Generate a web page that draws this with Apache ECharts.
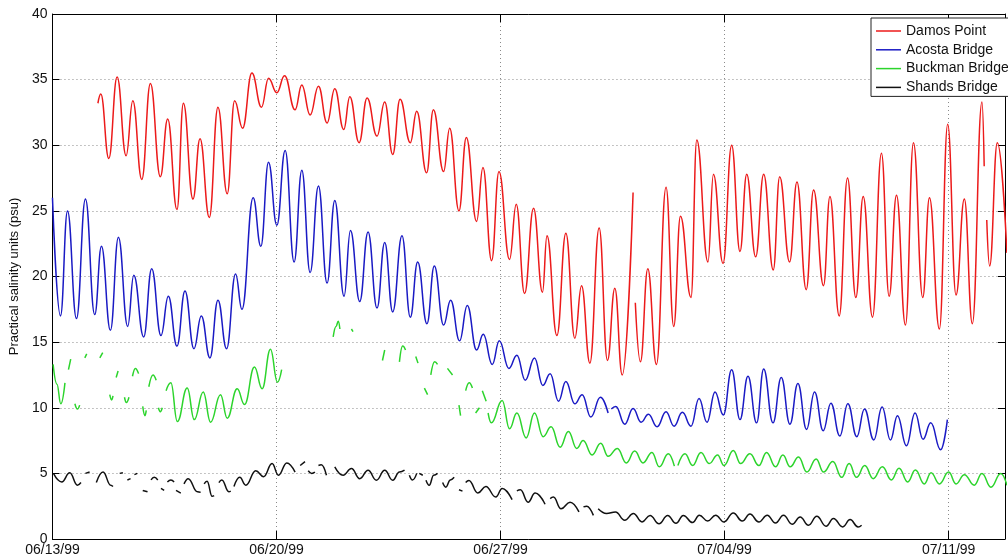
<!DOCTYPE html>
<html>
<head>
<meta charset="utf-8">
<title>Salinity, St. Johns River stations</title>
<script src="https://cdn.jsdelivr.net/npm/echarts@6/dist/echarts.min.js"></script>
<style>
  html, body { margin: 0; padding: 0; background: #fff; }
  #chart { width: 1008px; height: 557px; }
</style>
</head>
<body>
<div id="chart"></div>
<script>
// Time is in days since 06/13/99 00:00; values are practical salinity units.
// Each series lists its tidal highs and lows; null marks a gap in the record.
const tickLabels = ['06/13/99', '06/20/99', '06/27/99', '07/04/99', '07/11/99'];
const seriesNames = ['Damos Point', 'Acosta Bridge', 'Buckman Bridge', 'Shands Bridge'];
const yTicks = [0, 5, 10, 15, 20, 25, 30, 35, 40];

const damosPoint = [
  [1.42,33.2],[1.51,33.9],[1.76,29.0],[2.02,35.2],[2.30,29.2],[2.51,33.4],[2.79,27.4],[3.06,34.7],[3.37,27.6],[3.60,32.0],
  [3.89,25.1],[4.09,33.2],[4.39,25.9],[4.61,30.5],[4.90,24.5],[5.17,32.9],[5.46,26.3],[5.69,33.4],[5.94,31.3],[6.23,35.5],
  [6.53,32.9],[6.75,35.1],[7.01,34.0],[7.25,35.3],[7.58,32.7],[7.79,34.6],[8.05,32.3],[8.31,34.5],[8.58,31.7],[8.82,34.3],
  [9.10,31.2],[9.29,33.7],[9.58,30.2],[9.83,33.6],[10.14,30.7],[10.38,33.3],[10.63,29.3],[10.86,33.5],[11.18,30.2],[11.38,32.6],
  [11.69,27.9],[11.90,32.7],[12.22,28.0],[12.41,31.3],[12.70,25.0],[12.93,30.6],[13.25,24.2],[13.45,28.3],[13.72,21.2],[13.95,28.0],
  [14.28,21.3],[14.49,25.5],[14.75,18.7],[15.03,25.2],[15.31,18.8],[15.45,23.1],[15.76,15.5],[16.04,23.3],[16.32,15.3],[16.53,19.3],
  [16.79,13.4],[17.08,23.7],[17.34,13.6],[17.57,19.1],[17.80,12.5],[18.14,26.4],null,
  [18.21,18.0],[18.37,13.5],[18.60,20.6],[18.87,13.3],[19.17,26.8],[19.41,16.2],[19.62,24.6],[19.95,18.4],[20.13,30.4],[20.48,21.1],
  [20.65,27.8],[20.95,21.0],[21.22,30.0],[21.48,21.9],[21.69,27.8],[21.97,21.5],[22.22,27.8],[22.52,20.5],[22.72,27.6],[23.03,21.1],
  [23.26,27.2],[23.55,19.0],[23.78,26.6],[24.09,19.3],[24.29,26.1],[24.58,17.0],[24.84,27.5],[25.10,18.4],[25.33,26.1],[25.62,16.9],
  [25.90,29.4],[26.14,18.5],[26.37,26.2],[26.65,16.3],[26.90,30.2],[27.19,18.4],[27.40,26.0],[27.71,16.0],[27.97,31.6],[28.23,18.6],
  [28.49,25.9],[28.74,16.4],[29.04,33.3],[29.11,28.4],null,
  [29.19,24.3],[29.28,20.8],[29.52,30.2],[29.82,21.8]
];

const acostaBridge = [
  [0.00,26.0],[0.25,17.0],[0.47,25.0],[0.75,16.8],[1.03,25.9],[1.32,17.1],[1.53,22.3],[1.81,15.9],[2.06,23.0],[2.35,16.2],
  [2.54,20.1],[2.85,15.4],[3.10,20.6],[3.39,15.5],[3.62,18.5],[3.89,14.7],[4.14,18.9],[4.42,14.5],[4.65,17.0],[4.92,13.8],
  [5.17,18.2],[5.44,14.5],[5.72,20.2],[5.92,17.5],[6.27,26.0],[6.51,22.3],[6.75,28.7],[7.01,23.9],[7.27,29.6],[7.55,21.1],
  [7.79,28.1],[8.05,20.3],[8.31,26.9],[8.58,19.5],[8.82,25.8],[9.11,18.5],[9.31,23.5],[9.60,18.1],[9.86,23.4],[10.14,17.6],
  [10.38,22.6],[10.63,17.3],[10.92,23.1],[11.18,16.9],[11.41,21.1],[11.70,16.4],[11.93,20.8],[12.22,16.3],[12.44,18.2],[12.72,15.1],
  [12.96,17.8],[13.25,14.4],[13.46,15.6],[13.74,13.3],[13.96,15.1],[14.26,13.0],[14.51,14.0],[14.77,12.1],[15.06,13.8],[15.32,11.7],
  [15.55,12.6],[15.81,10.5],[16.04,12.0],[16.32,10.3],[16.55,11.0],[16.82,9.3],[17.12,10.8],[17.36,9.6],null,
  [17.46,9.9],[17.60,10.1],[17.88,8.75],[18.14,9.95],[18.39,8.9],[18.62,9.5],[18.89,8.55],[19.17,9.7],[19.42,8.6],[19.68,9.65],
  [19.95,8.6],[20.20,10.7],[20.45,8.9],[20.70,11.2],[20.96,9.45],[21.22,12.9],[21.48,9.1],[21.73,12.4],[22.00,8.85],[22.22,12.95],
  [22.51,8.85],[22.77,12.3],[23.04,8.75],[23.29,11.85],[23.56,8.35],[23.81,11.2],[24.08,8.25],[24.32,10.35],[24.60,7.85],[24.85,10.3],
  [25.13,7.8],[25.37,9.9],[25.66,7.55],[25.92,10.05],[26.18,7.55],[26.40,9.4],[26.68,7.1],[26.95,9.6],[27.20,7.6],[27.44,8.85],
  [27.75,6.8],[27.96,9.1]
];

const buckmanBridge = [
  [0.02,13.3],[0.14,11.8],[0.26,10.3],[0.39,11.9],null,
  [0.50,12.9],[0.57,13.7],null,
  [0.70,10.3],[0.78,9.9],[0.85,10.2],null,
  [1.01,13.8],[1.07,14.1],null,
  [1.48,13.8],[1.57,14.2],null,
  [1.79,11.0],[1.85,10.6],[1.89,10.9],null,
  [1.99,12.3],[2.05,12.8],null,
  [2.25,10.8],[2.31,10.4],[2.39,10.8],null,
  [2.50,12.4],[2.59,13.0],[2.69,12.6],null,
  [2.82,10.1],[2.89,9.4],[2.93,9.8],null,
  [3.01,11.6],[3.14,12.5],[3.24,12.1],null,
  [3.31,10.0],[3.37,9.7],[3.43,10.0],null,
  [3.55,11.3],[3.70,11.9],[3.90,8.95],[4.21,11.5],[4.43,9.1],[4.71,11.2],[4.94,8.9],[5.25,11.0],[5.46,9.2],[5.77,11.45],
  [6.00,10.25],[6.31,13.1],[6.55,11.45],[6.81,14.45],[7.03,11.95],[7.16,12.9],null,
  [8.77,15.4],[8.86,16.2],[8.93,16.6],[8.98,16.0],null,
  [9.34,16.0],[9.39,15.8],null,
  [10.31,13.6],[10.38,14.4],null,
  [10.84,13.5],[10.94,14.7],[11.03,14.4],null,
  [11.35,13.9],[11.42,13.4],null,
  [11.62,11.5],[11.72,11.0],null,
  [11.82,12.5],[11.94,13.5],[12.03,13.3],null,
  [12.34,13.0],[12.50,12.5],null,
  [12.70,10.2],[12.75,9.4],null,
  [12.91,11.3],[13.02,11.9],[13.12,11.5],null,
  [13.22,9.6],[13.34,10.0],null,
  [13.43,11.3],[13.55,10.5],null,
  [13.61,9.6],[13.71,8.85],[14.05,10.55],[14.28,8.4],[14.51,9.6],[14.80,7.7],[15.06,9.6],[15.33,7.8],[15.58,8.55],[15.86,7.0],
  [16.12,8.2],[16.38,6.9],[16.58,7.5],[16.86,6.4],[17.13,7.3],[17.36,6.3],[17.65,6.9],[17.93,5.8],[18.19,6.7],[18.45,5.8],
  [18.73,6.6],[18.96,5.5],[19.24,6.5],[19.43,5.55],null,
  [19.54,5.6],[19.76,6.5],[20.00,5.6],[20.26,6.6],[20.52,5.75],[20.78,6.4],[20.98,5.6],[21.27,6.75],[21.50,5.75],[21.79,6.5],
  [22.07,5.6],[22.31,6.6],[22.59,5.5],[22.82,6.4],[23.05,5.5],[23.31,6.25],[23.57,5.1],[23.86,6.1],[24.09,5.1],[24.38,5.9],
  [24.66,4.7],[24.89,5.75],[25.12,4.7],[25.38,5.6],[25.64,4.6],[25.93,5.5],[26.21,4.5],[26.45,5.4],[26.72,4.35],[26.96,5.25],
  [27.24,4.2],[27.45,5.05],[27.71,4.2],[28.00,5.1],[28.23,4.2],[28.49,4.9],[28.80,4.1],[29.04,5.0],[29.32,3.95],[29.63,5.0],
  [29.82,4.1]
];

const shandsBridge = [
  [0.03,5.0],[0.29,4.35],[0.54,5.05],[0.78,4.1],[0.89,4.3],null,
  [1.03,5.0],[1.16,5.1],null,
  [1.37,4.3],[1.58,5.1],[1.82,4.1],[1.89,4.0],null,
  [2.10,5.0],[2.20,5.05],null,
  [2.34,4.5],[2.44,4.6],null,
  [2.56,4.9],[2.65,5.0],null,
  [2.82,3.7],[2.97,3.6],null,
  [3.08,4.5],[3.18,4.7],[3.29,4.5],null,
  [3.39,3.85],[3.49,3.7],null,
  [3.59,4.35],[3.70,4.5],[3.80,4.35],null,
  [3.86,3.7],[4.01,3.5],null,
  [4.11,4.2],[4.24,4.6],[4.53,3.6],[4.63,3.55],null,
  [4.74,4.2],[4.83,4.4],[4.99,3.25],[5.05,3.3],null,
  [5.20,4.3],[5.29,4.5],[5.51,3.6],[5.57,3.65],null,
  [5.67,4.0],[5.85,4.7],[6.04,4.1],[6.35,5.2],[6.60,4.75],[6.86,5.75],[7.06,4.86],[7.32,5.8],[7.58,5.1],null,
  [7.74,5.6],[7.89,5.9],null,
  [7.99,5.2],[8.10,5.0],[8.20,5.1],null,
  [8.31,5.6],[8.40,5.65],[8.56,4.86],null,
  [8.82,5.5],[9.08,4.86],[9.34,5.37],[9.60,4.6],[9.86,5.24],[10.12,4.48],[10.38,5.24],[10.63,4.48],[10.84,5.1],[11.00,5.24],null,
  [11.15,4.86],[11.25,4.5],[11.38,5.0],null,
  [11.46,5.0],[11.57,4.86],null,
  [11.67,4.48],[11.77,4.1],[11.91,4.86],[12.03,5.0],null,
  [12.19,4.3],[12.29,3.95],[12.43,4.5],[12.55,4.7],null,
  [12.70,3.75],[12.81,3.65],null,
  [12.91,4.3],[13.01,4.45],[13.29,3.5],[13.54,4.0],[13.85,3.2],[14.05,3.85],[14.36,3.0],null,
  [14.51,3.67],[14.62,3.75],[14.86,2.8],[15.08,3.5],[15.39,2.65],null,
  [15.55,3.08],[15.65,3.2],[15.89,2.3],[16.17,2.8],[16.45,2.06],null,
  [16.59,2.45],[16.69,2.5],[16.90,1.8],null,
  [17.05,2.3],[17.31,1.94],[17.59,2.06],[17.88,1.43],[18.15,1.94],[18.42,1.3],[18.67,1.8],[18.95,1.17],[19.22,1.8],[19.48,1.2],
  [19.71,1.8],[20.00,1.25],[20.21,1.81],[20.47,1.37],[20.72,1.81],[20.98,1.3],[21.27,1.98],[21.55,1.37],[21.79,1.9],[22.07,1.3],
  [22.33,1.81],[22.59,1.22],[22.84,1.81],[23.11,1.12],[23.36,1.68],[23.62,1.05],[23.88,1.73],[24.17,0.97],[24.40,1.56],[24.69,0.92],
  [24.92,1.48],[25.17,0.92],[25.28,1.05]
];

const seriesData = [damosPoint, acostaBridge, buckmanBridge, shandsBridge];
const seriesColors = ['#ec1a1a', '#1a1ac4', '#2cd42c', '#111111'];

const FONT = '"Liberation Sans", Arial, Helvetica, sans-serif';
const X_MAX = 29.76;

// a null entry becomes a missing point so the line breaks there
const toPoints = arr => arr.map(p => (p === null ? ['-', '-'] : p));

const chart = echarts.init(document.getElementById('chart'), null, { renderer: 'canvas' });

const gridLine = { show: true, lineStyle: { color: '#8a8a8a', width: 1, type: [1, 3] } };
const boxLine = { show: true, onZero: false, lineStyle: { color: '#000', width: 1 } };

chart.setOption({
  animation: false,
  backgroundColor: '#ffffff',
  textStyle: { fontFamily: FONT },
  grid: { left: 48, right: 2, top: 14, bottom: 18, containLabel: false },
  legend: {
    data: seriesNames,
    orient: 'vertical',
    left: 871,
    top: 18,
    padding: [6, 12, 2, 5],
    icon: 'rect',
    itemWidth: 25,
    itemHeight: 1.5,
    itemGap: 4.8,
    backgroundColor: '#ffffff',
    borderColor: '#222',
    borderWidth: 1,
    borderRadius: 0,
    textStyle: { fontSize: 14, color: '#111', fontFamily: FONT }
  },
  xAxis: [
    {
      type: 'value', position: 'bottom', min: 0, max: X_MAX, interval: 7,
      axisLine: boxLine,
      axisTick: { show: true, inside: true, length: 8, lineStyle: { color: '#000' } },
      axisLabel: {
        fontSize: 14, color: '#111', margin: 4, fontFamily: FONT,
        formatter: v => {
          const i = v / 7;
          return Number.isInteger(i) && tickLabels[i] ? tickLabels[i] : '';
        }
      },
      splitLine: gridLine
    },
    {
      type: 'value', position: 'top', min: 0, max: X_MAX, interval: 7,
      axisLine: boxLine,
      axisTick: { show: true, inside: true, length: 8, lineStyle: { color: '#000' } },
      axisLabel: { show: false },
      splitLine: { show: false }
    }
  ],
  yAxis: [
    {
      type: 'value', position: 'left', min: yTicks[0], max: yTicks[yTicks.length - 1], interval: 5,
      name: 'Practical salinity units (psu)',
      nameLocation: 'middle',
      nameGap: 23,
      nameTextStyle: { fontSize: 13, color: '#111', fontFamily: FONT },
      axisLine: boxLine,
      axisTick: { show: true, inside: true, length: 7, lineStyle: { color: '#000' } },
      axisLabel: { fontSize: 14, color: '#111', margin: 5, fontFamily: FONT },
      splitLine: gridLine
    },
    {
      type: 'value', position: 'right', min: yTicks[0], max: yTicks[yTicks.length - 1], interval: 5,
      axisLine: boxLine,
      axisTick: { show: true, inside: true, length: 7, lineStyle: { color: '#000' } },
      axisLabel: { show: false },
      splitLine: { show: false }
    }
  ],
  series: seriesNames.map((name, i) => ({
    name,
    type: 'line',
    xAxisIndex: 0,
    yAxisIndex: 0,
    data: toPoints(seriesData[i]),
    symbol: 'none',
    showSymbol: false,
    smooth: 0.45,
    smoothMonotone: 'x',
    connectNulls: false,
    clip: true,
    color: seriesColors[i],
    lineStyle: { color: seriesColors[i], width: 1.5 },
    z: 2 + i
  }))
});
</script>
</body>
</html>
